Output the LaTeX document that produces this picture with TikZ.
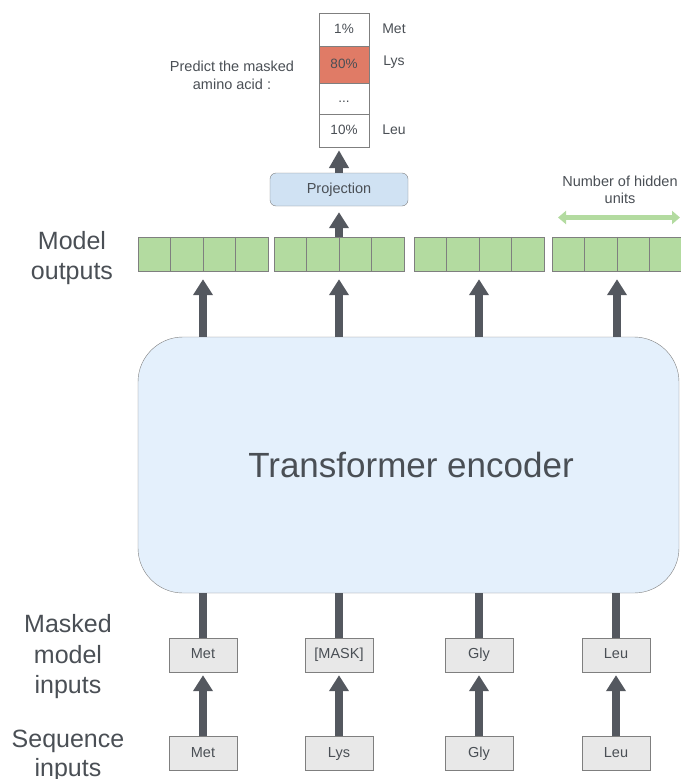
\documentclass[tikz,border=0pt]{standalone}
\usepackage{fontspec}
\setmainfont{Liberation Sans}
\usetikzlibrary{arrows.meta,calc}
\definecolor{txt}{HTML}{4A4F55}
\definecolor{arr}{HTML}{54585F}
\definecolor{bd}{HTML}{7F7F7F}
\definecolor{grn}{HTML}{B3DBA0}
\definecolor{encf}{HTML}{E4F0FC}
\definecolor{projf}{HTML}{D0E2F3}
\definecolor{inf}{HTML}{E8E8E8}
\definecolor{redc}{HTML}{E07B66}
\begin{document}
\begin{tikzpicture}[x=1pt,y=-1pt,
  every node/.style={text=txt, font=\fontsize{14.5}{17}\selectfont},
  bigarrow/.style={draw=arr, line width=8pt, -{Triangle[width=19pt,length=16pt]}},
  shaft/.style={draw=arr, line width=8pt},
  inbox/.style={draw=bd, fill=inf, minimum width=68pt, minimum height=34pt, inner sep=0pt, text height=10.5pt, text depth=3pt},
  outgrp/.style={draw=bd, fill=grn, minimum width=130pt, minimum height=34pt, inner sep=0pt},
  probcell/.style={draw=bd, fill=white, minimum width=50pt, inner sep=0pt, font=\fontsize{13.5}{16}\selectfont, text height=10pt, text depth=3pt},
  biglabel/.style={align=center, font=\fontsize{25}{30.5}\selectfont},
  smalllabel/.style={align=center, font=\fontsize{14.5}{18}\selectfont},
  divider/.style={draw=bd}
]
\useasboundingbox (0,0) rectangle (680,779);

% Transformer encoder
\node[draw=bd, fill=encf, rounded corners=45pt, minimum width=541pt, minimum height=256pt, inner sep=0pt] (enc) at (408.5,465) {};
\node[font=\fontsize{35}{40}\selectfont] (enctxt) at (411,465) {Transformer encoder};

% Output groups
\foreach \i/\cx in {1/203, 2/339, 3/479, 4/617} {
  \node[outgrp] (o\i) at (\cx,254) {};
  \draw[divider] ($(o\i.north west)!0.25!(o\i.north east)$) -- ($(o\i.south west)!0.25!(o\i.south east)$);
  \draw[divider] ($(o\i.north west)!0.5!(o\i.north east)$) -- ($(o\i.south west)!0.5!(o\i.south east)$);
  \draw[divider] ($(o\i.north west)!0.75!(o\i.north east)$) -- ($(o\i.south west)!0.75!(o\i.south east)$);
}

% Masked model inputs
\node[inbox] (m1) at (203,655) {Met};
\node[inbox] (m2) at (339,655) {[MASK]};
\node[inbox] (m3) at (479,655) {Gly};
\node[inbox] (m4) at (616,655) {Leu};

% Sequence inputs
\node[inbox] (s1) at (203,753.5) {Met};
\node[inbox] (s2) at (339,753.5) {Lys};
\node[inbox] (s3) at (479,753.5) {Gly};
\node[inbox] (s4) at (616,753.5) {Leu};

% Arrows
\foreach \i in {1,2,3,4} {
  \draw[bigarrow, shorten >=8pt] (enc.north -| o\i) -- (o\i.south);
  \draw[shaft] (m\i.north) -- (enc.south -| m\i);
  \draw[bigarrow, shorten >=3pt] (s\i.north) -- (m\i.south);
}

% Projection
\node[draw=bd, fill=projf, rounded corners=6pt, minimum width=138pt, minimum height=33pt, inner sep=0pt, text height=10.5pt, text depth=3pt] (proj) at (339,189.5) {Projection};
\draw[bigarrow, shorten >=6pt] (o2.north) -- (proj.south);

% Probability column
\node[probcell, minimum height=33pt] (c1) at (344,29.5) {1\%};
\node[probcell, minimum height=37pt, fill=redc] (c2) at (344,64.5) {80\%};
\node[probcell, minimum height=31pt] (c3) at (344,98.5) {...};
\node[probcell, minimum height=33pt] (c4) at (344,130.5) {10\%};
\draw[bigarrow, line width=8pt, -{Triangle[width=19pt,length=18pt]}, shorten >=3pt] (proj.north) -- (proj.north |- c4.south);

\node[font=\fontsize{14}{17}\selectfont] (lmet) at (394,29) {Met};
\node[font=\fontsize{14}{17}\selectfont] (llys) at (394,62) {Lys};
\node[font=\fontsize{14}{17}\selectfont] (lleu) at (394,130) {Leu};

\node[smalllabel] (pred) at (232,75) {Predict the masked\\amino acid :};

% Number of hidden units
\node[smalllabel, font=\fontsize{14.5}{17}\selectfont] (nhu) at (620,190) {Number of hidden\\units};
\coordinate (hl) at (558,217.5);
\coordinate (hr) at (680,217.5);
\draw[grn, line width=4.5pt, {Triangle[width=13pt,length=8pt]}-{Triangle[width=13pt,length=8pt]}] (hl) -- (hr);

% Left labels
\node[biglabel] (lmo) at (72,258) {Model\\outputs};
\node[biglabel] (lmmi) at (68,657) {Masked\\model\\inputs};
\node[biglabel, font=\fontsize{25}{29}\selectfont] (lsi) at (68,756) {Sequence\\inputs};
\end{tikzpicture}
\end{document}
